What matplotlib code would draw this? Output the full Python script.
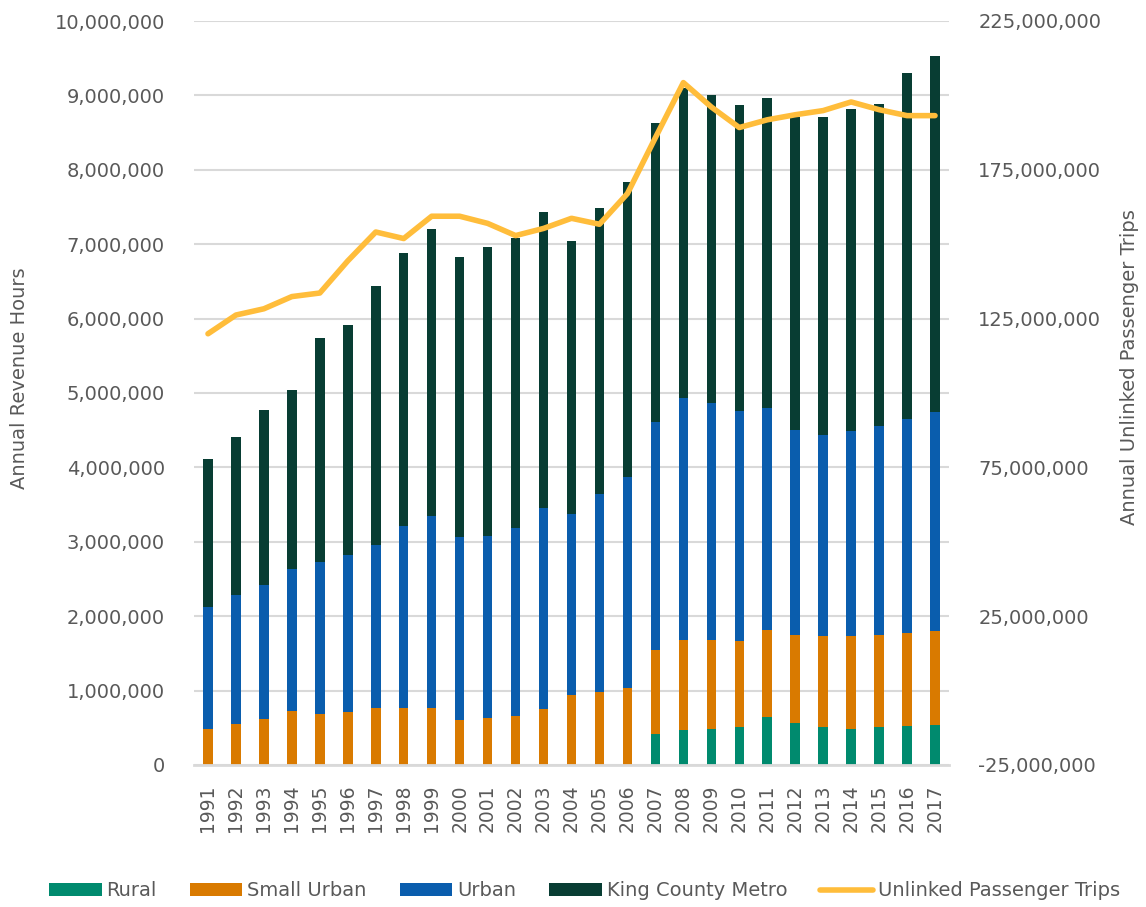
import matplotlib
matplotlib.use("Agg")
import matplotlib.pyplot as plt
from matplotlib.ticker import FuncFormatter, FixedLocator
import numpy as np

years = [str(y) for y in range(1991, 2018)]

# stacked tops (revenue hours)
rural = [0, 0, 0, 0, 0, 0, 0, 0, 0, 0, 0, 0, 0, 0, 0, 0,
         410000, 470000, 480000, 510000, 650000, 560000, 510000, 490000, 510000, 530000, 540000]
small_urban_top = [480000, 550000, 620000, 730000, 690000, 710000, 760000, 760000, 770000, 600000,
                   630000, 660000, 750000, 940000, 980000, 1040000, 1540000, 1680000, 1680000,
                   1670000, 1820000, 1750000, 1730000, 1740000, 1750000, 1780000, 1800000]
urban_top = [2120000, 2280000, 2420000, 2630000, 2730000, 2820000, 2960000, 3210000, 3350000, 3060000,
             3080000, 3190000, 3460000, 3370000, 3640000, 3870000, 4610000, 4930000, 4870000,
             4760000, 4800000, 4500000, 4430000, 4490000, 4560000, 4650000, 4750000]
total = [4110000, 4410000, 4770000, 5040000, 5740000, 5920000, 6440000, 6880000, 7200000, 6830000,
         6960000, 7090000, 7430000, 7040000, 7480000, 7840000, 8630000, 9100000, 9010000,
         8870000, 8970000, 8710000, 8710000, 8820000, 8880000, 9300000, 9530000]

# unlinked passenger trips, millions
trips = [119.9, 126.2, 128.3, 132.4, 133.6, 144.4, 154.1, 151.9, 159.4, 159.4, 157.0, 152.9,
         155.3, 158.7, 156.7, 167.0, 185.8, 204.3, 196.1, 189.2, 191.8, 193.5, 194.9, 197.8,
         195.2, 193.2, 193.2]
trips = [t * 1e6 for t in trips]

rural = np.array(rural)
small_urban = np.array(small_urban_top) - rural
urban = np.array(urban_top) - np.array(small_urban_top)
kcm = np.array(total) - np.array(urban_top)

c_rural = "#008A6E"
c_small = "#D97A00"
c_urban = "#0A5DAD"
c_kcm = "#083D33"
c_line = "#FFBD3B"
grid_c = "#D9D9D9"
txt_c = "#595959"

plt.rcParams["font.family"] = ["DejaVu Sans"]

fig = plt.figure(figsize=(11.46, 9.07), dpi=100)
ax = fig.add_axes([194 / 1146, 1 - 765 / 907, 755 / 1146, 744 / 907])
x = np.arange(len(years))
w = 0.34

b1 = ax.bar(x, rural, w, color=c_rural, label="Rural", zorder=2)
b2 = ax.bar(x, small_urban, w, bottom=rural, color=c_small, label="Small Urban", zorder=2)
b3 = ax.bar(x, urban, w, bottom=small_urban_top, color=c_urban, label="Urban", zorder=2)
b4 = ax.bar(x, kcm, w, bottom=urban_top, color=c_kcm, label="King County Metro", zorder=2)

ax.set_xlim(-0.5, len(years) - 0.5)
ax.set_ylim(0, 10000000)
ax.set_yticks(np.arange(0, 10000001, 1000000))
ax.yaxis.set_major_formatter(FuncFormatter(lambda v, p: f"{int(v):,}"))
ax.set_xticks(x)
ax.set_xticklabels(years, rotation=90)
ax.grid(axis="y", color=grid_c, linewidth=1.5, zorder=0)
ax.set_axisbelow(True)
for s in ["top", "right", "left"]:
    ax.spines[s].set_visible(False)
ax.spines["bottom"].set_color(grid_c)
ax.spines["bottom"].set_linewidth(2)
ax.spines["bottom"].set_zorder(3)
ax.tick_params(axis="both", length=0, colors=txt_c, labelsize=14)
ax.tick_params(axis="y", pad=21)
ax.tick_params(axis="x", pad=14, labelsize=13.5)
ax.set_ylabel("Annual Revenue Hours", fontsize=14, color=txt_c)
ax.yaxis.set_label_coords(-0.218, 0.52)

ax2 = ax.twinx()
ln, = ax2.plot(x, trips, color=c_line, linewidth=4, solid_capstyle="round",
               solid_joinstyle="round", label="Unlinked Passenger Trips", zorder=5)
ax2.set_ylim(-25e6, 225e6)
ax2.yaxis.set_major_locator(FixedLocator(np.arange(-25e6, 225e6 + 1, 50e6)))
ax2.yaxis.set_major_formatter(FuncFormatter(lambda v, p: f"{int(round(v)):,}"))
for s in ax2.spines.values():
    s.set_visible(False)
ax2.tick_params(axis="y", length=0, colors=txt_c, labelsize=14, pad=21)
ax2.set_ylabel("Annual Unlinked Passenger Trips", fontsize=14, color=txt_c)
ax2.yaxis.set_label_coords(1.226, 0.535)

leg = fig.legend(handles=[b1, b2, b3, b4, ln], loc="lower center", bbox_to_anchor=(0.51, -0.012),
                 ncol=5, frameon=False, fontsize=14, handlelength=2.7, handleheight=0.6,
                 handletextpad=0.25, columnspacing=1.7)
for t in leg.get_texts():
    t.set_color(txt_c)

fig.savefig("out.png", dpi=100)
